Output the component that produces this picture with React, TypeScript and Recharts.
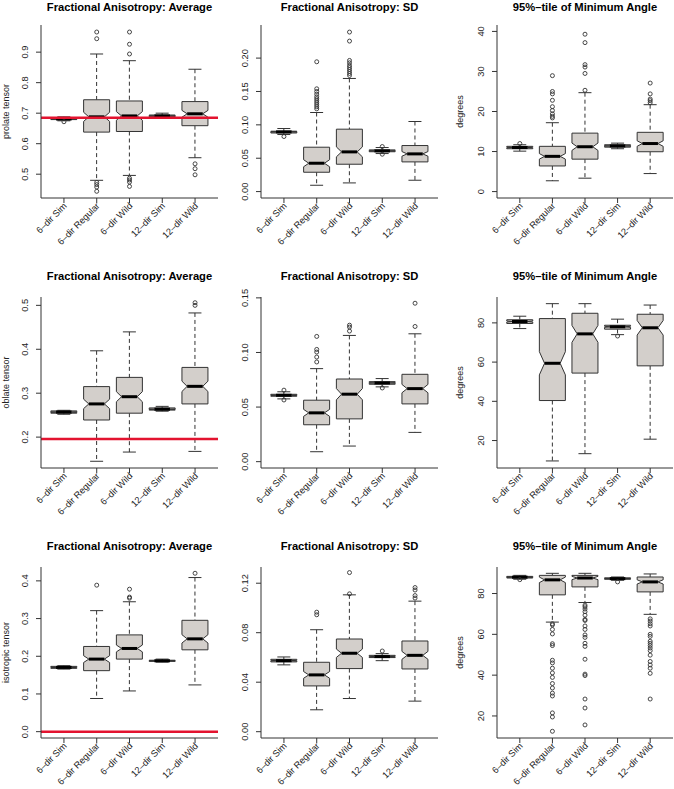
import React from 'react';
import { ComposedChart, Bar, Scatter, XAxis, YAxis, ReferenceLine } from 'recharts';

const FONT = '"Liberation Sans", Arial, Helvetica, sans-serif';
const INK = '#333333';
const BOX_FILL = '#d3cfcb';
const RED = '#e3132f';
const SAMPLE_N = 125; // sample size used for the notch width (R: 1.58*IQR/sqrt(n))

const CATEGORIES = ['6–dir Sim', '6–dir Regular', '6–dir Wild', '12–dir Sim', '12–dir Wild'];
const COL_TITLES = ['Fractional Anisotropy: Average', 'Fractional Anisotropy: SD', '95%–tile of Minimum Angle'];
const ROW_LABELS = ['prolate tensor', 'oblate tensor', 'isotropic tensor'];
const ANGLE_LABEL = 'degrees';

// ---------- prolate tensor ----------
const prolateAvg = {
  lo: [0.675, 0.48, 0.496, 0.683, 0.554],
  q1: [0.679, 0.638, 0.64, 0.688, 0.659],
  med: [0.681, 0.688, 0.691, 0.691, 0.698],
  q3: [0.684, 0.744, 0.74, 0.694, 0.738],
  hi: [0.688, 0.894, 0.872, 0.7, 0.844],
  out: [[0.672], [0.966, 0.944, 0.473, 0.466, 0.458, 0.444], [0.966, 0.926, 0.894, 0.487, 0.481, 0.474, 0.46], [], [0.534, 0.518, 0.498]],
};
const prolateSD = {
  lo: [0.0855, 0.0095, 0.013, 0.057, 0.017],
  q1: [0.0878, 0.029, 0.041, 0.0597, 0.0445],
  med: [0.0895, 0.0425, 0.0595, 0.061, 0.0565],
  q3: [0.0905, 0.0665, 0.0935, 0.0625, 0.069],
  hi: [0.0945, 0.1185, 0.1695, 0.066, 0.105],
  out: [[0.0825], [0.1945, 0.154, 0.15, 0.146, 0.142, 0.139, 0.136, 0.133, 0.13, 0.127, 0.124], [0.239, 0.2255, 0.1965, 0.193, 0.189, 0.186, 0.183, 0.18, 0.177, 0.174], [0.0675, 0.056], []],
};
const prolateAngle = {
  lo: [10.1, 2.7, 3.35, 10.7, 4.5],
  q1: [10.7, 6.4, 8.1, 11.1, 9.95],
  med: [11.0, 8.8, 11.2, 11.4, 12.0],
  q3: [11.3, 11.3, 14.6, 11.7, 14.8],
  hi: [11.7, 17.2, 24.7, 12.1, 21.7],
  out: [[12.0], [28.95, 25.0, 24.4, 22.8, 21.2, 20.25, 19.4, 18.8, 18.4], [39.3, 37.2, 31.7, 31.1, 29.5, 25.3], [], [27.1, 24.4, 23.1, 22.7, 22.2]],
};

// ---------- oblate tensor ----------
const oblateAvg = {
  lo: [0.252, 0.145, 0.166, 0.259, 0.1675],
  q1: [0.2545, 0.239, 0.2545, 0.2615, 0.2756],
  med: [0.257, 0.2756, 0.292, 0.2635, 0.3156],
  q3: [0.2597, 0.315, 0.336, 0.2665, 0.3587],
  hi: [0.261, 0.3965, 0.4396, 0.27, 0.4827],
  out: [[], [], [], [], [0.506, 0.5]],
};
const oblateSD = {
  lo: [0.0575, 0.0091, 0.0143, 0.0685, 0.0268],
  q1: [0.0599, 0.0338, 0.0392, 0.0709, 0.0529],
  med: [0.0608, 0.0447, 0.0618, 0.0721, 0.0669],
  q3: [0.0617, 0.0563, 0.0757, 0.0733, 0.08],
  hi: [0.064, 0.0852, 0.1156, 0.0761, 0.1171],
  out: [[0.0655, 0.0565], [0.1147, 0.1028, 0.1004, 0.0958, 0.0913], [0.125, 0.1232, 0.1196], [0.0675], [0.1451, 0.1238]],
};
const oblateAngle = {
  lo: [77.1, 9.6, 13.3, 74.0, 20.7],
  q1: [79.7, 40.4, 54.4, 76.8, 58.1],
  med: [80.7, 59.4, 74.4, 78.0, 77.5],
  q3: [81.6, 82.2, 84.9, 78.8, 84.4],
  hi: [83.4, 89.8, 89.8, 81.9, 89.1],
  out: [[], [], [], [73.3], []],
};

// ---------- isotropic tensor ----------
const isoAvg = {
  lo: [0.166, 0.088, 0.108, 0.1845, 0.124],
  q1: [0.168, 0.1618, 0.1925, 0.1865, 0.2171],
  med: [0.1705, 0.1925, 0.2207, 0.188, 0.2462],
  q3: [0.1732, 0.226, 0.2567, 0.1895, 0.2954],
  hi: [0.175, 0.321, 0.3446, 0.1925, 0.4088],
  out: [[], [0.3886], [0.378, 0.357, 0.354], [], [0.4202]],
};
const isoSD = {
  lo: [0.054, 0.0177, 0.0268, 0.0574, 0.0247],
  q1: [0.0564, 0.037, 0.051, 0.0599, 0.0507],
  med: [0.0574, 0.0459, 0.0634, 0.0607, 0.0617],
  q3: [0.0585, 0.0561, 0.0749, 0.0617, 0.0733],
  hi: [0.0604, 0.0824, 0.1106, 0.0631, 0.1055],
  out: [[], [0.0966, 0.0945], [0.1286, 0.1114], [0.0652], [0.1165, 0.1145, 0.11, 0.108]],
};
const isoAngle = {
  lo: [87.0, 66.0, 75.6, 86.5, 69.8],
  q1: [87.6, 79.35, 83.25, 87.0, 80.8],
  med: [88.0, 86.7, 87.6, 87.3, 85.7],
  q3: [88.4, 88.9, 88.9, 87.7, 88.1],
  hi: [88.9, 89.9, 89.9, 88.1, 89.6],
  out: [
    [86.8],
    [65.2, 64.6, 62.4, 60.2, 55.4, 54.5, 47.3, 46.0, 43.4, 41.1, 38.9, 35.9, 33.7, 31.2, 29.8, 21.5, 19.5, 12.5],
    [74.3, 73.5, 72.4, 71.1, 69.4, 67.3, 66.8, 64.1, 62.4, 59.7, 58.5, 55.6, 54.1, 47.8, 40.5, 39.8, 28.3, 23.9, 15.6],
    [85.7],
    [67.6, 66.5, 65.2, 64.1, 60.0, 59.0, 56.6, 55.6, 54.5, 53.3, 52.0, 49.8, 46.7, 45.0, 43.4, 40.9, 28.3],
  ],
};

// axis ticks
const TICKS_PRO_AVG = [0.5, 0.6, 0.7, 0.8, 0.9];
const TICKS_PRO_SD = [0, 0.05, 0.1, 0.15, 0.2];
const TICKS_PRO_ANG = [0, 10, 20, 30, 40];
const TICKS_OBL_AVG = [0.2, 0.3, 0.4, 0.5];
const TICKS_OBL_SD = [0, 0.05, 0.1, 0.15];
const TICKS_ANG = [20, 40, 60, 80];
const TICKS_ISO_AVG = [0, 0.1, 0.2, 0.3, 0.4];
const TICKS_ISO_SD = [0, 0.04, 0.08, 0.12];

// reference (true) values drawn in red
const REF_PROLATE = 0.685;
const REF_OBLATE = 0.196;
const REF_ISO = 0;

// layout of plot regions
const COLS = [[41, 218], [261, 438], [497, 673]];
const ROWS = [[25, 198], [297, 468], [567, 738]];
const TITLE_BASELINES = [10.5, 280, 550];
const YLABEL_X = [6, 460];

type Stats = { lo: number[]; q1: number[]; med: number[]; q3: number[]; hi: number[]; out: number[][] };

const BoxShape = (props: any) => {
  const { x, y, width, height, payload } = props;
  if (payload == null || !Number.isFinite(y) || !Number.isFinite(height)) return <g />;
  const { lo, q1, med, q3, hi } = payload;
  const top = Math.min(y, y + height);
  const bot = Math.max(y, y + height);
  const py = (v: number) => top + ((hi - v) / (hi - lo)) * (bot - top);
  const xc = x + width / 2;
  const hw = width / 2;
  const nw = hw * 0.6;
  const notch = (1.58 * (q3 - q1)) / Math.sqrt(SAMPLE_N);
  const yq3 = py(q3), yq1 = py(q1), ym = py(med);
  const ynt = py(med + notch), ynb = py(med - notch);
  const pts = [
    [xc - hw, yq3], [xc + hw, yq3], [xc + hw, ynt], [xc + nw, ym], [xc + hw, ynb], [xc + hw, yq1],
    [xc - hw, yq1], [xc - hw, ynb], [xc - nw, ym], [xc - hw, ynt],
  ].map((p) => p.join(',')).join(' ');
  const cap = hw / 2;
  return (
    <g>
      <line x1={xc} x2={xc} y1={py(hi)} y2={yq3} stroke={INK} strokeWidth={1} strokeDasharray="4 3" />
      <line x1={xc} x2={xc} y1={yq1} y2={py(lo)} stroke={INK} strokeWidth={1} strokeDasharray="4 3" />
      <line x1={xc - cap} x2={xc + cap} y1={py(hi)} y2={py(hi)} stroke={INK} strokeWidth={1} />
      <line x1={xc - cap} x2={xc + cap} y1={py(lo)} y2={py(lo)} stroke={INK} strokeWidth={1} />
      <polygon points={pts} fill={BOX_FILL} stroke={INK} strokeWidth={1} />
      <line x1={xc - nw} x2={xc + nw} y1={ym} y2={ym} stroke="#000" strokeWidth={3} />
    </g>
  );
};

const OutlierShape = (props: any) => {
  const { cx, cy } = props;
  if (!Number.isFinite(cx) || !Number.isFinite(cy)) return <g />;
  return <circle cx={cx} cy={cy} r={2} fill="none" stroke={INK} strokeWidth={0.9} />;
};

const XTick = (props: any) => {
  const { x, y, payload } = props;
  const ax = x + 3.5;
  const ay = y + 1.5;
  return (
    <text x={ax} y={ay} transform={`rotate(-45 ${ax} ${ay})`} textAnchor="end" fontSize={9.2} fontFamily={FONT} fill="#222">
      {payload.value}
    </text>
  );
};

const makeYTick = (decimals: number) => (props: any) => {
  const { x, y, payload } = props;
  const cx = x - 9;
  return (
    <text x={cx} y={y} dy="0.35em" transform={`rotate(-90 ${cx} ${y})`} textAnchor="middle" fontSize={9.3} fontFamily={FONT} fill="#222">
      {Number(payload.value).toFixed(decimals)}
    </text>
  );
};

type PanelProps = {
  stats: Stats;
  domain: [number, number];
  ticks: number[];
  decimals: number;
  refY?: number;
  col: number;
  row: number;
};

function BoxPanel({ stats, domain, ticks, decimals, refY, col, row }: PanelProps) {
  const [x0, x1] = COLS[col];
  const [y0, y1] = ROWS[row];
  const padL = 50, padT = 10, padB = 60, padR = 4;
  const plotW = x1 - x0;
  const plotH = y1 - y0;
  const width = plotW + padL + padR;
  const height = plotH + padT + padB;
  const data = CATEGORIES.map((name, i) => ({
    name,
    lo: stats.lo[i],
    q1: stats.q1[i],
    med: stats.med[i],
    q3: stats.q3[i],
    hi: stats.hi[i],
    out: stats.out[i],
  }));
  const maxOut = Math.max(...stats.out.map((o) => o.length));
  const xpad = (plotW * 0.2) / 5.4;
  const YTick = makeYTick(decimals);
  return (
    <div style={{ position: 'absolute', left: x0 - padL, top: y0 - padT, width, height }}>
      <ComposedChart width={width} height={height} data={data} margin={{ top: padT, right: padR, bottom: 0, left: 0 }} barCategoryGap="10%">
        <XAxis
          dataKey="name"
          type="category"
          height={padB}
          padding={{ left: xpad, right: xpad }}
          interval={0}
          tickSize={5}
          tickLine={{ stroke: INK }}
          axisLine={{ stroke: INK }}
          tick={<XTick />}
        />
        <XAxis xAxisId="top" orientation="top" dataKey="name" height={0} tick={false} tickLine={false} axisLine={{ stroke: INK }} />
        <YAxis
          type="number"
          domain={domain}
          ticks={ticks}
          allowDataOverflow
          width={padL}
          tickSize={5}
          tickLine={{ stroke: INK }}
          axisLine={{ stroke: INK }}
          tick={<YTick />}
        />
        <YAxis yAxisId="right" orientation="right" width={0} domain={[0, 1]} tick={false} tickLine={false} axisLine={{ stroke: INK }} />
        <Bar dataKey={(r: any) => [r.lo, r.hi]} shape={BoxShape} isAnimationActive={false} />
        {Array.from({ length: maxOut }, (_, i) => (
          <Scatter key={i} dataKey={(r: any) => (r.out[i] === undefined ? null : r.out[i])} shape={OutlierShape} isAnimationActive={false} />
        ))}
        {refY !== undefined && <ReferenceLine y={refY} stroke={RED} strokeWidth={2.5} />}
      </ComposedChart>
    </div>
  );
}

export default function App() {
  return (
    <div style={{ position: 'absolute', left: 0, top: 0, width: 674, height: 789, background: '#fff', fontFamily: FONT, overflow: 'hidden' }}>
      <BoxPanel stats={prolateAvg} domain={[0.422, 0.989]} ticks={TICKS_PRO_AVG} decimals={1} refY={REF_PROLATE} col={0} row={0} />
      <BoxPanel stats={prolateSD} domain={[-0.0096, 0.2496]} ticks={TICKS_PRO_SD} decimals={2} col={1} row={0} />
      <BoxPanel stats={prolateAngle} domain={[-1.6, 41.6]} ticks={TICKS_PRO_ANG} decimals={0} col={2} row={0} />
      <BoxPanel stats={oblateAvg} domain={[0.1297, 0.519]} ticks={TICKS_OBL_AVG} decimals={1} refY={REF_OBLATE} col={0} row={1} />
      <BoxPanel stats={oblateSD} domain={[-0.0058, 0.1508]} ticks={TICKS_OBL_SD} decimals={2} col={1} row={1} />
      <BoxPanel stats={oblateAngle} domain={[6.0, 93.2]} ticks={TICKS_ANG} decimals={0} col={2} row={1} />
      <BoxPanel stats={isoAvg} domain={[-0.0168, 0.4368]} ticks={TICKS_ISO_AVG} decimals={1} refY={REF_ISO} col={0} row={2} />
      <BoxPanel stats={isoSD} domain={[-0.0051, 0.1331]} ticks={TICKS_ISO_SD} decimals={2} col={1} row={2} />
      <BoxPanel stats={isoAngle} domain={[9.2, 93.0]} ticks={TICKS_ANG} decimals={0} col={2} row={2} />
      <svg width={674} height={789} style={{ position: 'absolute', left: 0, top: 0, pointerEvents: 'none' }}>
        {ROWS.map((r, ri) => (
          <g key={ri}>
            {COLS.map((c, ci) => (
              <text key={ci} x={(c[0] + c[1]) / 2} y={TITLE_BASELINES[ri]} textAnchor="middle" fontSize={11.2} fontWeight="bold" fontFamily={FONT} fill="#000">
                {COL_TITLES[ci]}
              </text>
            ))}
            <text x={YLABEL_X[0]} y={(r[0] + r[1]) / 2} dy="0.35em" transform={`rotate(-90 ${YLABEL_X[0]} ${(r[0] + r[1]) / 2})`} textAnchor="middle" fontSize={9} fontFamily={FONT} fill="#222">
              {ROW_LABELS[ri]}
            </text>
            <text x={YLABEL_X[1]} y={(r[0] + r[1]) / 2} dy="0.35em" transform={`rotate(-90 ${YLABEL_X[1]} ${(r[0] + r[1]) / 2})`} textAnchor="middle" fontSize={9} fontFamily={FONT} fill="#222">
              {ANGLE_LABEL}
            </text>
          </g>
        ))}
      </svg>
    </div>
  );
}
